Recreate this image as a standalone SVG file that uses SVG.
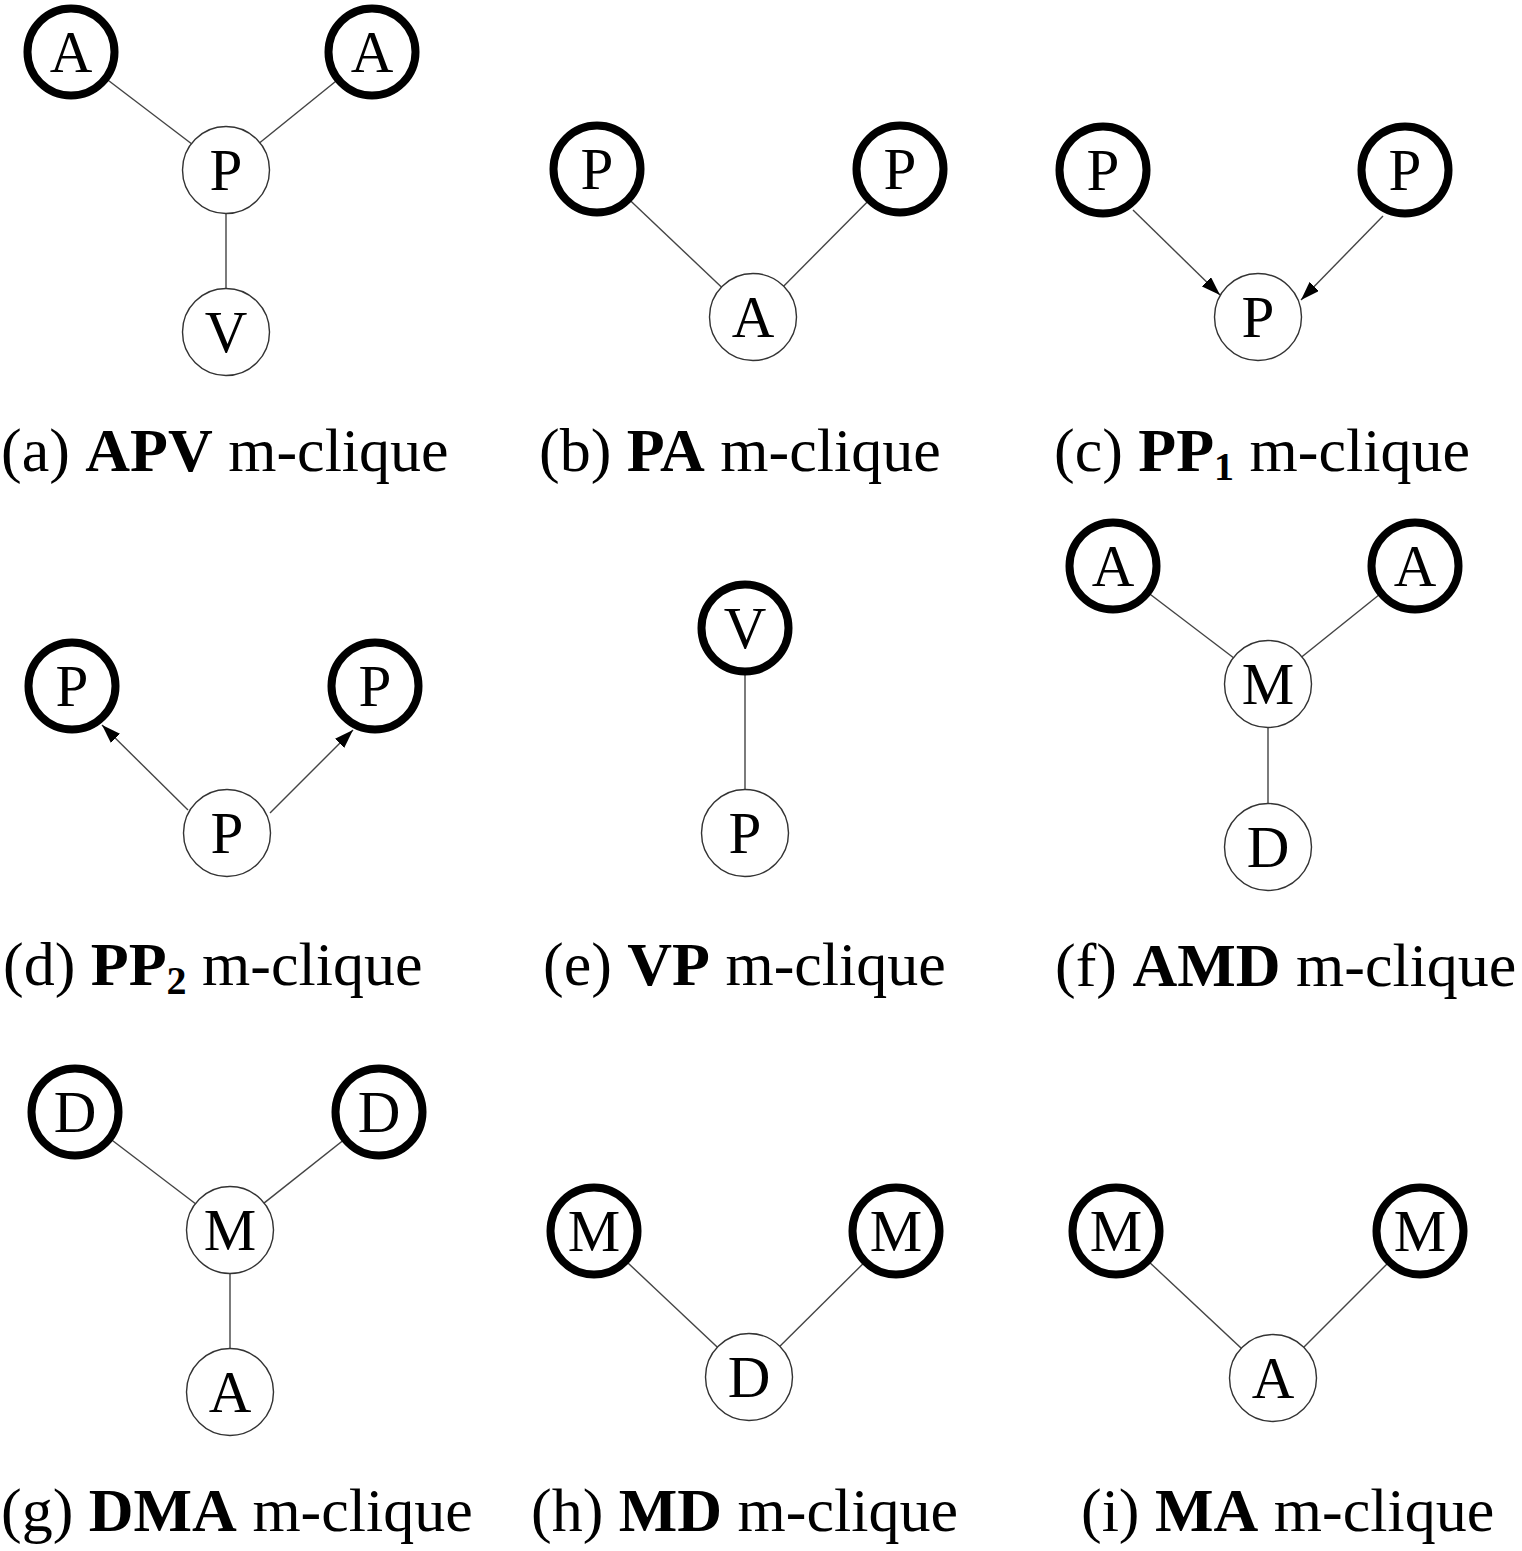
<svg xmlns="http://www.w3.org/2000/svg" width="1522" height="1551" viewBox="0 0 1522 1551">
<style>
.bg{fill:#fff}
.e{stroke:#444;stroke-width:1.4;fill:none}
.a{stroke:#444;stroke-width:1.4;fill:none;marker-end:url(#ah)}
.n{fill:#fff;stroke:#333;stroke-width:1.4}
.k{fill:#fff;stroke:#000;stroke-width:8}
.l{font-family:"Liberation Serif","Times New Roman",serif;font-size:59px;text-anchor:middle;fill:#000}
.c{font-family:"Liberation Serif","Times New Roman",serif;font-size:62px;fill:#000}
.b{font-weight:bold}
.s{font-size:40px;font-weight:bold}
</style>
<defs>
<marker id="ah" markerUnits="userSpaceOnUse" markerWidth="21" markerHeight="14" refX="19" refY="6.5" orient="auto">
<path d="M0,0 L19,6.5 L0,13 z" fill="#000"/>
</marker>
</defs>
<rect class="bg" x="0" y="0" width="1522" height="1551"/>
<g id="connectors">
<line class="e" x1="71" y1="52" x2="226" y2="170"/>
<line class="e" x1="372" y1="52" x2="226" y2="170"/>
<line class="e" x1="226" y1="170" x2="226" y2="332"/>
<line class="e" x1="597" y1="169" x2="753" y2="317"/>
<line class="e" x1="900" y1="169" x2="753" y2="317"/>
<line class="a" x1="1133" y1="210" x2="1220" y2="295"/>
<line class="a" x1="1383" y1="216" x2="1301" y2="300"/>
<line class="a" x1="188" y1="810" x2="102" y2="725"/>
<line class="a" x1="270" y1="813" x2="353" y2="730"/>
<line class="e" x1="745" y1="628" x2="745" y2="833"/>
<line class="e" x1="1113" y1="566" x2="1268" y2="684"/>
<line class="e" x1="1415" y1="566" x2="1268" y2="684"/>
<line class="e" x1="1268" y1="684" x2="1268" y2="847"/>
<line class="e" x1="75" y1="1112" x2="230" y2="1230"/>
<line class="e" x1="379" y1="1112" x2="230" y2="1230"/>
<line class="e" x1="230" y1="1230" x2="230" y2="1392"/>
<line class="e" x1="594" y1="1231" x2="749" y2="1377"/>
<line class="e" x1="896" y1="1231" x2="749" y2="1377"/>
<line class="e" x1="1116" y1="1231" x2="1273" y2="1378"/>
<line class="e" x1="1420" y1="1231" x2="1273" y2="1378"/>
</g>
<g id="panel-a">
<g id="a-A1"><circle class="k" cx="71" cy="52" r="43.5"/><text class="l" x="71" y="72">A</text></g>
<g id="a-A2"><circle class="k" cx="372" cy="52" r="43.5"/><text class="l" x="372" y="72">A</text></g>
<g id="a-P"><circle class="n" cx="226" cy="170" r="43.5"/><text class="l" x="226" y="190">P</text></g>
<g id="a-V"><circle class="n" cx="226" cy="332" r="43.5"/><text class="l" x="226" y="352">V</text></g>
<text id="cap-a" class="c" x="1" y="471">(a) <tspan class="b">APV</tspan> m-clique</text>
</g>
<g id="panel-b">
<g id="b-P1"><circle class="k" cx="597" cy="169" r="43.5"/><text class="l" x="597" y="189">P</text></g>
<g id="b-P2"><circle class="k" cx="900" cy="169" r="43.5"/><text class="l" x="900" y="189">P</text></g>
<g id="b-A"><circle class="n" cx="753" cy="317" r="43.5"/><text class="l" x="753" y="337">A</text></g>
<text id="cap-b" class="c" x="539" y="471">(b) <tspan class="b">PA</tspan> m-clique</text>
</g>
<g id="panel-c">
<g id="c-P1"><circle class="k" cx="1103" cy="170" r="43.5"/><text class="l" x="1103" y="190">P</text></g>
<g id="c-P2"><circle class="k" cx="1405" cy="170" r="43.5"/><text class="l" x="1405" y="190">P</text></g>
<g id="c-P3"><circle class="n" cx="1258" cy="317" r="43.5"/><text class="l" x="1258" y="337">P</text></g>
<text id="cap-c" class="c" x="1054" y="471">(c) <tspan class="b">PP</tspan><tspan class="s" dy="9">1</tspan><tspan dy="-9"> m-clique</tspan></text>
</g>
<g id="panel-d">
<g id="d-P1"><circle class="k" cx="72" cy="686" r="43.5"/><text class="l" x="72" y="706">P</text></g>
<g id="d-P2"><circle class="k" cx="375" cy="686" r="43.5"/><text class="l" x="375" y="706">P</text></g>
<g id="d-P3"><circle class="n" cx="227" cy="833" r="43.5"/><text class="l" x="227" y="853">P</text></g>
<text id="cap-d" class="c" x="3" y="985">(d) <tspan class="b">PP</tspan><tspan class="s" dy="9">2</tspan><tspan dy="-9"> m-clique</tspan></text>
</g>
<g id="panel-e">
<g id="e-V"><circle class="k" cx="745" cy="628" r="43.5"/><text class="l" x="745" y="648">V</text></g>
<g id="e-P"><circle class="n" cx="745" cy="833" r="43.5"/><text class="l" x="745" y="853">P</text></g>
<text id="cap-e" class="c" x="543" y="985">(e) <tspan class="b">VP</tspan> m-clique</text>
</g>
<g id="panel-f">
<g id="f-A1"><circle class="k" cx="1113" cy="566" r="43.5"/><text class="l" x="1113" y="586">A</text></g>
<g id="f-A2"><circle class="k" cx="1415" cy="566" r="43.5"/><text class="l" x="1415" y="586">A</text></g>
<g id="f-M"><circle class="n" cx="1268" cy="684" r="43.5"/><text class="l" x="1268" y="704">M</text></g>
<g id="f-D"><circle class="n" cx="1268" cy="847" r="43.5"/><text class="l" x="1268" y="867">D</text></g>
<text id="cap-f" class="c" x="1055" y="986">(f) <tspan class="b">AMD</tspan> m-clique</text>
</g>
<g id="panel-g">
<g id="g-D1"><circle class="k" cx="75" cy="1112" r="43.5"/><text class="l" x="75" y="1132">D</text></g>
<g id="g-D2"><circle class="k" cx="379" cy="1112" r="43.5"/><text class="l" x="379" y="1132">D</text></g>
<g id="g-M"><circle class="n" cx="230" cy="1230" r="43.5"/><text class="l" x="230" y="1250">M</text></g>
<g id="g-A"><circle class="n" cx="230" cy="1392" r="43.5"/><text class="l" x="230" y="1412">A</text></g>
<text id="cap-g" class="c" x="1" y="1531">(g) <tspan class="b">DMA</tspan> m-clique</text>
</g>
<g id="panel-h">
<g id="h-M1"><circle class="k" cx="594" cy="1231" r="43.5"/><text class="l" x="594" y="1251">M</text></g>
<g id="h-M2"><circle class="k" cx="896" cy="1231" r="43.5"/><text class="l" x="896" y="1251">M</text></g>
<g id="h-D"><circle class="n" cx="749" cy="1377" r="43.5"/><text class="l" x="749" y="1397">D</text></g>
<text id="cap-h" class="c" x="531" y="1531">(h) <tspan class="b">MD</tspan> m-clique</text>
</g>
<g id="panel-i">
<g id="i-M1"><circle class="k" cx="1116" cy="1231" r="43.5"/><text class="l" x="1116" y="1251">M</text></g>
<g id="i-M2"><circle class="k" cx="1420" cy="1231" r="43.5"/><text class="l" x="1420" y="1251">M</text></g>
<g id="i-A"><circle class="n" cx="1273" cy="1378" r="43.5"/><text class="l" x="1273" y="1398">A</text></g>
<text id="cap-i" class="c" x="1081" y="1531">(i) <tspan class="b">MA</tspan> m-clique</text>
</g>
</svg>
